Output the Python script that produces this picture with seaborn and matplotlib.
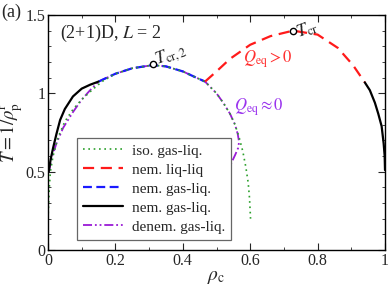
import matplotlib
matplotlib.use("Agg")
import matplotlib.pyplot as plt
import seaborn as sns
import pandas as pd
from matplotlib.lines import Line2D
from matplotlib.ticker import MultipleLocator

sns.set_style("ticks")
plt.rcParams['font.family'] = ['Liberation Serif', 'DejaVu Serif']
plt.rcParams['mathtext.fontset'] = 'stix'

# ---- data (rho_c, T) ----
iso_x = [0.0, 0.002, 0.004, 0.007, 0.015, 0.03, 0.05, 0.075, 0.10, 0.13, 0.16, 0.20, 0.25, 0.31,
         0.35, 0.40, 0.44, 0.466, 0.50, 0.52, 0.54, 0.555, 0.567, 0.578, 0.587, 0.594, 0.598, 0.601]
iso_T = [0.20, 0.30, 0.40, 0.50, 0.60, 0.72, 0.82, 0.90, 0.96, 1.02, 1.075, 1.125, 1.16, 1.18,
         1.172, 1.14, 1.10, 1.075, 1.00, 0.94, 0.87, 0.80, 0.72, 0.63, 0.53, 0.43, 0.33, 0.20]

denem_x = [0.003, 0.01, 0.025, 0.045, 0.074, 0.10, 0.125, 0.15, 0.20, 0.25, 0.31, 0.35, 0.40,
           0.44, 0.466, 0.50, 0.52, 0.54, 0.555, 0.563, 0.567, 0.564, 0.556, 0.545, 0.534]
denem_T = [0.50, 0.58, 0.68, 0.78, 0.88, 0.96, 1.02, 1.075, 1.125, 1.16, 1.18, 1.172, 1.14,
           1.10, 1.075, 1.00, 0.94, 0.87, 0.80, 0.74, 0.69, 0.65, 0.61, 0.56, 0.50]

nem_gl_x = [0.15, 0.20, 0.25, 0.31, 0.35, 0.40, 0.44, 0.466]
nem_gl_T = [1.075, 1.125, 1.16, 1.18, 1.172, 1.14, 1.10, 1.075]

nem_ll_x = [0.466, 0.50, 0.54, 0.60, 0.66, 0.727, 0.80, 0.86, 0.905, 0.94]
nem_ll_T = [1.075, 1.14, 1.22, 1.31, 1.365, 1.40, 1.375, 1.29, 1.18, 1.07]

nem_left_x = [0.002, 0.008, 0.015, 0.025, 0.036, 0.05, 0.074, 0.10, 0.125, 0.15]
nem_left_T = [0.50, 0.58, 0.65, 0.74, 0.83, 0.90, 0.98, 1.03, 1.055, 1.075]
nem_right_x = [0.94, 0.955, 0.97, 0.98, 0.99, 0.996, 0.999, 1.0]
nem_right_T = [1.07, 1.02, 0.94, 0.87, 0.79, 0.68, 0.60, 0.51]

crit_x = [0.312, 0.727]
crit_T = [1.19, 1.40]

labels = ["iso. gas-liq.", "nem. liq-liq", "nem. gas-liq.", "nem. gas-liq.", "denem. gas-liq."]

GREEN = "#2ca02c"
RED = "#ff1a1a"
BLUE = "#1a1aff"
PURPLE = "#9a1ad6"

fig = plt.figure(figsize=(3.9, 2.86), dpi=100)
ax = fig.add_axes([48/390, 36/286, 337/390, 235/286])

def draw(x, y, **kw):
    df = pd.DataFrame({"x": x, "y": y})
    sns.lineplot(data=df, x="x", y="y", sort=False, estimator=None, ax=ax, **kw)

draw(denem_x, denem_T, color=PURPLE, lw=1.3, linestyle=(0, (5, 1.6, 1, 1.6, 1, 1.6)))
draw(nem_gl_x, nem_gl_T, color=BLUE, lw=1.6, linestyle=(0, (4, 2)))
draw(iso_x, iso_T, color=GREEN, lw=1.2, linestyle=(0, (1, 2.2)))
draw(nem_ll_x, nem_ll_T, color=RED, lw=1.6, linestyle=(0, (5, 3)))
draw(nem_left_x, nem_left_T, color="black", lw=1.6)
draw(nem_right_x, nem_right_T, color="black", lw=1.6)

ax.plot(crit_x, crit_T, linestyle="none", marker="o", ms=4.5, mfc="white", mec="black", mew=1.0, zorder=5)

ax.text(0.322, 1.187, r"$T_{\rm cr,2}$", fontsize=13, rotation=20, ha="left", va="baseline", rotation_mode="anchor")
ax.text(0.742, 1.355, r"$T_{\rm cr}$", fontsize=13, rotation=20, ha="left", va="baseline", rotation_mode="anchor")
ax.text(0.58, 1.22, r"$Q_{\rm eq} > 0$", fontsize=12, color="#ff3030", ha="left", va="center")
ax.text(0.553, 0.91, r"$Q_{\rm eq} \approx 0$", fontsize=12, color="#9a33ee", ha="left", va="center")
ax.text(0.036, 1.385, r"(2+1)D, $L$ = 2", fontsize=13, ha="left", va="center")
fig.text(0.002, 0.958, "(a)", fontsize=13, ha="left", va="center")

ax.set_xlim(0, 1)
ax.set_ylim(0, 1.5)
ax.xaxis.set_major_locator(MultipleLocator(0.2))
ax.xaxis.set_minor_locator(MultipleLocator(0.1))
ax.yaxis.set_major_locator(MultipleLocator(0.5))
ax.yaxis.set_minor_locator(MultipleLocator(0.1))
ax.set_xticks([0, 0.2, 0.4, 0.6, 0.8, 1.0])
ax.set_xticklabels(["0", "0.2", "0.4", "0.6", "0.8", "1"])
ax.set_yticks([0, 0.5, 1.0, 1.5])
ax.set_yticklabels(["0", "0.5", "1", "1.5"])
ax.tick_params(which="both", direction="in", top=True, right=True, labelsize=11.5, pad=2)
ax.tick_params(which="major", length=5, width=0.8)
ax.tick_params(which="minor", length=2.5, width=0.6)
for s in ax.spines.values():
    s.set_linewidth(1.0)
    s.set_color("black")

ax.set_xlabel(r"$\rho_{\rm c}$", fontsize=14, labelpad=0)
ax.set_ylabel(r"$T = 1/\rho_{\rm p}^{\rm r}$", fontsize=13.5, labelpad=0)

handles = [
    Line2D([], [], color=GREEN, lw=1.2, linestyle=(0, (1, 2.2))),
    Line2D([], [], color=RED, lw=1.6, linestyle=(0, (5, 3))),
    Line2D([], [], color=BLUE, lw=1.6, linestyle=(0, (4, 2))),
    Line2D([], [], color="black", lw=1.6),
    Line2D([], [], color=PURPLE, lw=1.3, linestyle=(0, (5, 1.6, 1, 1.6, 1, 1.6))),
]
leg = ax.legend(handles, labels, loc="lower left", bbox_to_anchor=(0.086, 0.043), fontsize=11,
                frameon=True, fancybox=False, edgecolor="#666666", framealpha=1,
                handlelength=2.6, handletextpad=0.6, labelspacing=0.35, borderpad=0.4, borderaxespad=0)
leg.get_frame().set_linewidth(0.9)

fig.savefig("out.png", dpi=100)
